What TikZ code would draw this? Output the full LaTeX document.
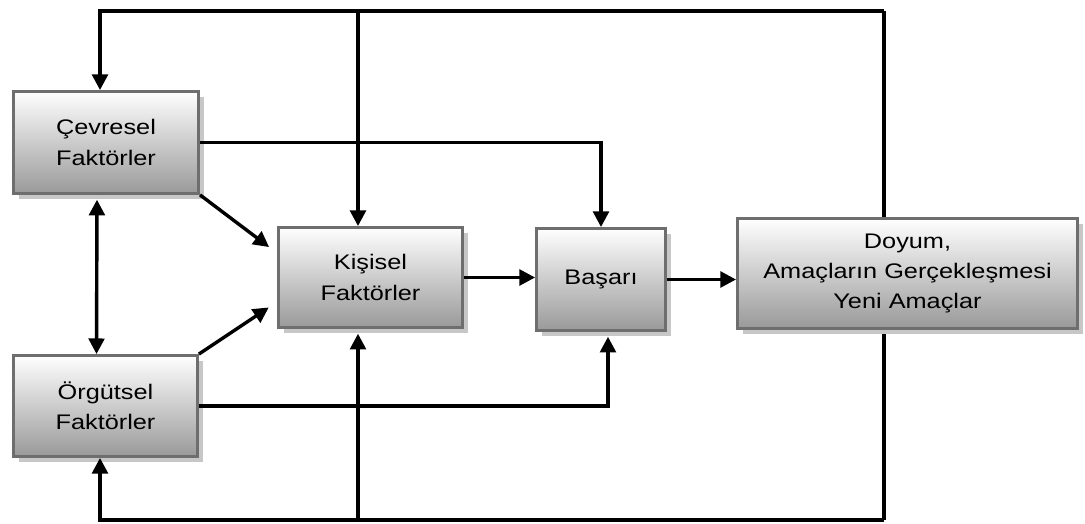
\documentclass[tikz,border=0pt]{standalone}
\usepackage{fontspec}
\setmainfont[FakeStretch=1.2]{Liberation Sans}
\usetikzlibrary{arrows.meta,shadows,backgrounds}

\tikzset{
	faktor/.style={draw=black!57, line width=0.07cm, top color=white, bottom color=black!40,
		inner sep=0pt, align=center, font=\fontsize{15pt}{21.5pt}\selectfont,
		drop shadow={shadow xshift=0.14cm, shadow yshift=-0.14cm, fill=black!22, opacity=1}},
	akis/.style={line width=0.085cm, black},
}

\begin{document}
\begin{tikzpicture}[x=0.025cm, y=-0.025cm, >={Triangle[length=3.9mm,width=3.9mm]}]
		\useasboundingbox (0, 0) rectangle (1085, 524);

		\node[faktor, minimum width=4.63cm, minimum height=2.55cm] (cevre) at (106, 142.5) {Çevresel\\Faktörler};
		\node[faktor, minimum width=4.6cm, minimum height=2.525cm] (orgut) at (105.5, 406) {Örgütsel\\Faktörler};
		\node[faktor, minimum width=4.6cm, minimum height=2.5cm] (kisi) at (370.5, 277.5) {Kişisel\\Faktörler};
		\node[faktor, minimum width=3.225cm, minimum height=2.55cm] (basari) at (601, 279.5) {Başarı};
		\node[faktor, minimum width=8.5cm, minimum height=2.75cm] (doyum) at (907.5, 273.5) {Doyum,\\Amaçların Gerçekleşmesi\\Yeni Amaçlar};

		% geri besleme cercevesi
		\coordinate (lt) at (100, 11);
		\coordinate (mt) at (358, 11);
		\coordinate (rt) at (884, 11);
		\coordinate (lb) at (100, 520);
		\coordinate (mb) at (358, 520);
		\coordinate (rb) at (884, 520);

		\begin{scope}[on background layer]
			\draw[akis] (rt) to (rb);
		\end{scope}

		\draw[akis, ->] (rt) -- (lt) -- (lt |- cevre.north);
		\draw[akis, ->] (mt) -- (mt |- kisi.north);
		\draw[akis, ->] (rb) -- (lb) -- (lb |- orgut.south);
		\draw[akis, ->] (mb) -- ([yshift=-0.12cm]mb |- kisi.south);

		\draw[akis, <->] ([xshift=-0.225cm, yshift=-0.12cm]cevre.south) to ([xshift=-0.225cm]orgut.north);
		\draw[akis, ->] (cevre.east) -| (basari.north);
		\draw[akis, ->] (orgut.east) -| ([xshift=0.175cm, yshift=-0.12cm]basari.south);

		\draw[akis, ->, shorten >=0.25cm] (cevre.south east) to ([yshift=0.61cm]kisi.west);
		\draw[akis, ->, shorten >=0.25cm] (orgut.north east) to ([yshift=-0.61cm]kisi.west);
		\draw[akis, ->] (kisi.east) to (kisi.east -| basari.west);
		\draw[akis, ->] (basari.east) to (basari.east -| doyum.west);
	\end{tikzpicture}
\end{document}
